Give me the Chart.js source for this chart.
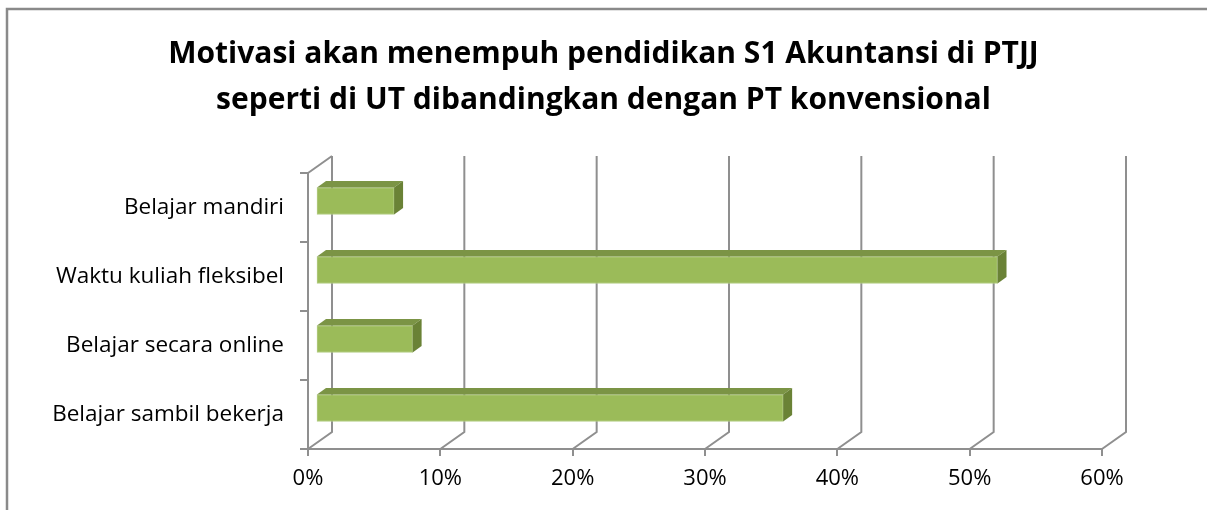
<!DOCTYPE html>
<html>
<head>
<meta charset="utf-8">
<script src="https://cdn.jsdelivr.net/npm/chart.js@4"></script>
<style>
  html, body { margin: 0; padding: 0; background: #fff; }
  #wrap { position: relative; width: 1207px; height: 510px; }
</style>
</head>
<body>
<div id="wrap"><canvas id="chartCanvas" width="1207" height="510"></canvas></div>
<script>
// Daten
const kategorien = ['Belajar mandiri', 'Waktu kuliah fleksibel', 'Belajar secara online', 'Belajar sambil bekerja'];
const anteil = [5.9, 51.5, 7.3, 35.3];
const achseMax = 60;
const achseSchritt = 10;
const titel = ['Motivasi akan menempuh pendidikan S1 Akuntansi di PTJJ', 'seperti di UT dibandingkan dengan PT konvensional'];

const schrift = '"Open Sans", Lato, sans-serif';
const gitterFarbe = '#8f8f8f';

// 3D-Versatz der Rückwand und der Balken
const wand = { dx: 24, dy: -17 };
const balken = { x: 8, y: -6.5, dx: 9, dy: -6.5 };

const rahmen = {
  id: 'rahmen',
  beforeDraw(chart) {
    const c = chart.ctx;
    c.save();
    c.fillStyle = '#fff';
    c.fillRect(0, 0, chart.width, chart.height);
    c.strokeStyle = '#8a8a8a';
    c.lineWidth = 2.5;
    c.beginPath();
    c.moveTo(7, chart.height);
    c.lineTo(7, 9);
    c.lineTo(chart.width, 9);
    c.stroke();
    c.restore();
  }
};

const raum = {
  id: 'raum',
  beforeDatasetsDraw(chart) {
    const c = chart.ctx;
    const xs = chart.scales.x;
    const a = chart.chartArea;
    c.save();
    c.strokeStyle = gitterFarbe;
    c.lineWidth = 2;
    // Rückwand-Gitter + Boden-Diagonalen
    for (let v = 0; v <= achseMax; v += achseSchritt) {
      const px = xs.getPixelForValue(v);
      c.beginPath();
      c.moveTo(px + wand.dx, a.top + wand.dy);
      c.lineTo(px + wand.dx, a.bottom + wand.dy);
      c.lineTo(px, a.bottom);
      c.stroke();
    }
    // linke Wand oben
    c.beginPath();
    c.moveTo(a.left, a.top);
    c.lineTo(a.left + wand.dx, a.top + wand.dy);
    c.stroke();
    c.restore();

    // Balken verschoben zeichnen
    c.save();
    c.translate(balken.x, balken.y);
  },
  afterDatasetsDraw(chart) {
    const c = chart.ctx;
    const meta = chart.getDatasetMeta(0);
    meta.data.forEach(bar => {
      const p = bar.getProps(['x', 'y', 'base', 'height'], true);
      const oben = p.y - p.height / 2;
      const unten = p.y + p.height / 2;
      // Deckfläche
      c.fillStyle = '#7b9445';
      c.beginPath();
      c.moveTo(p.base, oben);
      c.lineTo(p.x, oben);
      c.lineTo(p.x + balken.dx, oben + balken.dy);
      c.lineTo(p.base + balken.dx, oben + balken.dy);
      c.closePath();
      c.fill();
      // Seitenfläche
      c.fillStyle = '#6a8236';
      c.beginPath();
      c.moveTo(p.x, oben);
      c.lineTo(p.x + balken.dx, oben + balken.dy);
      c.lineTo(p.x + balken.dx, unten + balken.dy);
      c.lineTo(p.x, unten);
      c.closePath();
      c.fill();
    });
    c.restore();
  }
};

new Chart(document.getElementById('chartCanvas').getContext('2d'), {
  type: 'bar',
  data: {
    labels: kategorien,
    datasets: [{
      data: anteil,
      backgroundColor: '#9bbb59',
      borderColor: '#b4cd86',
      borderWidth: 1,
      borderSkipped: false,
      barThickness: 27
    }]
  },
  options: {
    indexAxis: 'y',
    responsive: false,
    animation: false,
    events: [],
    layout: { padding: 0 },
    plugins: {
      legend: { display: false },
      tooltip: { enabled: false },
      title: {
        display: true,
        text: titel,
        color: '#000',
        font: { family: schrift, size: 30, weight: 'bold', lineHeight: 1.55 },
        padding: { top: 31, bottom: 49 }
      }
    },
    scales: {
      x: {
        min: 0,
        max: achseMax,
        afterFit(s) { s.height = 61; },
        ticks: {
          stepSize: achseSchritt,
          callback: v => v + '%',
          color: '#000',
          padding: 10,
          font: { family: schrift, size: 22 }
        },
        grid: { drawOnChartArea: false, color: gitterFarbe, lineWidth: 2, tickLength: 7 },
        border: { display: true, color: gitterFarbe, width: 2 }
      },
      y: {
        afterFit(s) { s.width = 308; },
        ticks: {
          color: '#000',
          padding: 16,
          font: { family: schrift, size: 22.5 }
        },
        grid: { drawOnChartArea: false, offset: true, color: gitterFarbe, lineWidth: 2, tickLength: 8 },
        border: { display: true, color: gitterFarbe, width: 2 }
      },
      // leerer Rand rechts, damit der Titel mittig bleibt
      rand: {
        type: 'category',
        position: 'right',
        afterFit(s) { s.width = 105; },
        ticks: { display: false },
        grid: { display: false },
        border: { display: false }
      }
    }
  },
  plugins: [rahmen, raum]
});
</script>
</body>
</html>
